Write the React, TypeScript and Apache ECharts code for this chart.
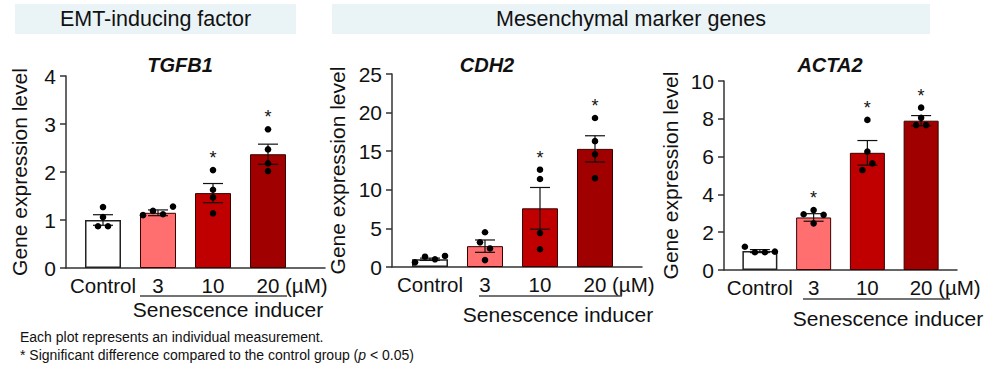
import React, { useEffect, useRef } from "react";
import * as echarts from "echarts";

const FONT = "'Liberation Sans', Arial, sans-serif";

const categories = ["Control", "3", "10", "20"];
const barColors = ["#ffffff", "#ff6f6f", "#c00000", "#a00000"];
const yAxisName = "Gene expression level";
const groupLabel = "Senescence inducer";
const unitLabel = "(µM)";

const tgfb1Mean = [1.0, 1.15, 1.56, 2.37];
const tgfb1Sem = [0.11, 0.06, 0.2, 0.21];
const tgfb1Points = [
  [1.27, 1.06, 0.87, 0.87],
  [1.1, 1.19, 1.12, 1.28],
  [2.04, 1.63, 1.47, 1.14],
  [2.89, 2.47, 2.18, 2.02],
];
const tgfb1Sig = [false, false, true, true];

const cdh2Mean = [1.0, 2.7, 7.6, 15.3];
const cdh2Sem = [0.15, 0.8, 2.7, 1.7];
const cdh2Points = [
  [0.6, 1.33, 1.0, 1.43],
  [4.5, 3.2, 2.4, 0.9],
  [12.6, 11.4, 4.4, 2.3],
  [19.3, 16.3, 14.6, 11.5],
];
const cdh2Sig = [false, false, true, true];

const acta2Mean = [1.0, 2.78, 6.2, 7.9];
const acta2Sem = [0.08, 0.2, 0.65, 0.27];
const acta2Points = [
  [1.23, 0.94, 0.94, 0.97],
  [2.95, 3.17, 2.92, 2.47],
  [7.94, 6.26, 5.29, 5.64],
  [8.59, 8.05, 7.67, 7.67],
];
const acta2Sig = [false, true, true, true];

const headers = [
  { text: "EMT-inducing factor", x: 15, y: 4, w: 281, h: 30 },
  { text: "Mesenchymal marker genes", x: 332, y: 4, w: 598, h: 30 },
];

const footnote1 = "Each plot represents an individual measurement.";

const panels = [
  {
    title: "TGFB1", mean: tgfb1Mean, sem: tgfb1Sem, points: tgfb1Points, sig: tgfb1Sig,
    yMax: 4, yInterval: 1,
    axisLeft: 66, axisWidth: 259, barsLeft: 75.5, barsWidth: 220, top: 76, height: 192,
    barWidth: 36, nameGap: 36, titleX: 180, titleY: 65,
    lineY: 296, lineX1: 140, lineX2: 287, groupX: 228, groupY: 309,
  },
  {
    title: "CDH2", mean: cdh2Mean, sem: cdh2Sem, points: cdh2Points, sig: cdh2Sig,
    yMax: 25, yInterval: 5,
    axisLeft: 392, axisWidth: 250, barsLeft: 402.5, barsWidth: 220, top: 74, height: 193,
    barWidth: 36, nameGap: 44, titleX: 487, titleY: 65,
    lineY: 296, lineX1: 479, lineX2: 622, groupX: 558, groupY: 314,
  },
  {
    title: "ACTA2", mean: acta2Mean, sem: acta2Sem, points: acta2Points, sig: acta2Sig,
    yMax: 10, yInterval: 2,
    axisLeft: 724, axisWidth: 233, barsLeft: 733, barsWidth: 215, top: 81, height: 189,
    barWidth: 35, nameGap: 43, titleX: 830, titleY: 65,
    lineY: 299, lineX1: 803, lineX2: 950, groupX: 888, groupY: 318,
  },
];

// simple beeswarm: points closer than thr px vertically are laid side by side
function swarmOffsets(ys: number[], thr: number, spacing: number): number[] {
  const order = ys.map((_, i) => i).sort((a, b) => ys[a] - ys[b]);
  const groups: number[][] = [];
  let cur: number[] = [];
  order.forEach((idx, k) => {
    if (k === 0 || ys[idx] - ys[order[k - 1]] < thr) cur.push(idx);
    else {
      groups.push(cur);
      cur = [idx];
    }
  });
  if (cur.length) groups.push(cur);
  const xs = new Array(ys.length).fill(0);
  groups.forEach((g) => {
    const sorted = [...g].sort((a, b) => a - b);
    sorted.forEach((idx, k) => {
      xs[idx] = (k - (sorted.length - 1) / 2) * spacing;
    });
  });
  return xs;
}

export default function App() {
  const ref = useRef<HTMLDivElement>(null);
  useEffect(() => {
    if (!ref.current) return;
    const chart = echarts.init(ref.current, undefined, { renderer: "svg" });
    const grids: any[] = [];
    const xAxes: any[] = [];
    const yAxes: any[] = [];
    const series: any[] = [];
    const axisLineStyle = { color: "#333", width: 1.5 };

    panels.forEach((p, pi) => {
      const gB = pi * 2;
      const gA = pi * 2 + 1;
      grids.push({ left: p.axisLeft, top: p.top, width: p.axisWidth, height: p.height });
      grids.push({ left: p.barsLeft, top: p.top, width: p.barsWidth, height: p.height });
      xAxes.push({
        gridIndex: gB, type: "value", min: 0, max: 1,
        axisLine: { show: true, onZero: false, lineStyle: axisLineStyle },
        axisTick: { show: false }, axisLabel: { show: false }, splitLine: { show: false },
      });
      xAxes.push({
        gridIndex: gA, type: "category", data: categories,
        axisLine: { show: false }, axisTick: { show: false }, splitLine: { show: false },
        axisLabel: { interval: 0, fontSize: 20.5, color: "#111", margin: 7, fontFamily: FONT },
      });
      yAxes.push({
        gridIndex: gB, type: "value", min: 0, max: p.yMax, interval: p.yInterval,
        axisLine: { show: true, lineStyle: axisLineStyle },
        axisTick: { show: true, length: 6, lineStyle: axisLineStyle },
        axisLabel: { fontSize: 21, color: "#111", margin: 10, fontFamily: FONT },
        splitLine: { show: false },
        name: yAxisName, nameLocation: "middle", nameGap: p.nameGap,
        nameTextStyle: { fontSize: 21, color: "#111", fontFamily: FONT },
      });
      yAxes.push({ gridIndex: gA, type: "value", min: 0, max: p.yMax, show: false });

      series.push({
        type: "bar", xAxisIndex: gA, yAxisIndex: gA, barWidth: p.barWidth,
        data: p.mean.map((v, i) => ({
          value: v,
          itemStyle: {
            color: barColors[i],
            borderColor: i === 0 ? "#222" : "#3a0000",
            borderWidth: i === 0 ? 1.5 : 1,
          },
        })),
        z: 2,
      });
      series.push({
        type: "custom", xAxisIndex: gA, yAxisIndex: gA, z: 5, clip: false,
        encode: { x: 0, y: 1 },
        data: p.mean.map((m, i) => [i, m, p.sem[i]]),
        renderItem: (params: any, api: any) => {
          const di = params.dataIndex;
          const idx = api.value(0);
          const mean = api.value(1);
          const sem = api.value(2);
          const cx = api.coord([idx, mean])[0];
          const yTop = api.coord([idx, mean + sem])[1];
          const yBot = api.coord([idx, mean - sem])[1];
          const cap = 10;
          const st = { stroke: "#111", lineWidth: 1.2 };
          const children: any[] = [
            { type: "line", shape: { x1: cx, y1: yTop, x2: cx, y2: yBot }, style: st },
            { type: "line", shape: { x1: cx - cap, y1: yTop, x2: cx + cap, y2: yTop }, style: st },
            { type: "line", shape: { x1: cx - cap, y1: yBot, x2: cx + cap, y2: yBot }, style: st },
          ];
          const pts = p.points[di];
          const ys = pts.map((v) => api.coord([idx, v])[1]);
          const xs = swarmOffsets(ys, 7, 10);
          ys.forEach((y, k) => {
            children.push({
              type: "circle", shape: { cx: cx + xs[k], cy: y, r: 3.3 },
              style: { fill: "#000" },
            });
          });
          if (p.sig[di]) {
            const minY = Math.min(...ys, yTop);
            children.push({
              type: "text",
              style: {
                text: "*", x: cx, y: minY - 12, align: "center", verticalAlign: "middle",
                fontSize: 18, fill: "#111", fontFamily: FONT,
              },
            });
          }
          return { type: "group", children };
        },
      });
    });

    chart.setOption({
      animation: false,
      backgroundColor: "#ffffff",
      grid: grids,
      xAxis: xAxes,
      yAxis: yAxes,
      series,
    });

    const graphics: any[] = [];
    headers.forEach((h) => {
      graphics.push({
        type: "rect", shape: { x: h.x, y: h.y, width: h.w, height: h.h },
        style: { fill: "#eaf3f6" }, z: 0,
      });
      graphics.push({
        type: "text", x: h.x + h.w / 2, y: h.y + h.h / 2,
        style: { text: h.text, align: "center", verticalAlign: "middle", fontSize: 21.5, fill: "#111", fontFamily: FONT },
      });
    });
    panels.forEach((p, pi) => {
      const gA = pi * 2 + 1;
      const x20 = chart.convertToPixel({ xAxisIndex: gA }, categories[3]) as number;
      const yLab = p.top + p.height + 7 + 10;
      graphics.push({
        type: "text", x: x20 + 17, y: yLab,
        style: { text: unitLabel, align: "left", verticalAlign: "middle", fontSize: 20.5, fill: "#111", fontFamily: FONT },
      });
      graphics.push({
        type: "text", x: p.titleX, y: p.titleY,
        style: {
          text: p.title, align: "center", verticalAlign: "middle", fontSize: 20,
          fontWeight: "bold", fontStyle: "italic", fill: "#111", fontFamily: FONT,
        },
      });
      graphics.push({
        type: "line", shape: { x1: p.lineX1, y1: p.lineY, x2: p.lineX2, y2: p.lineY },
        style: { stroke: "#444", lineWidth: 1.5 },
      });
      graphics.push({
        type: "text", x: p.groupX, y: p.groupY,
        style: { text: groupLabel, align: "center", verticalAlign: "middle", fontSize: 21, fill: "#111", fontFamily: FONT },
      });
    });
    graphics.push({
      type: "text", x: 20, y: 337,
      style: { text: footnote1, align: "left", verticalAlign: "middle", fontSize: 14, fill: "#111", fontFamily: FONT },
    });
    graphics.push({
      type: "text", x: 20, y: 355,
      style: {
        text: "* Significant difference compared to the control group ({i|p} < 0.05)",
        align: "left", verticalAlign: "middle", fontSize: 14, fill: "#111", fontFamily: FONT,
        rich: { i: { fontStyle: "italic", fontSize: 14, fill: "#111", fontFamily: FONT } },
      },
    });
    chart.setOption({ graphic: graphics });

    return () => chart.dispose();
  }, []);
  return (
    <div
      ref={ref}
      style={{ position: "absolute", left: 0, top: 0, width: 1000, height: 374, background: "#fff" }}
    />
  );
}
